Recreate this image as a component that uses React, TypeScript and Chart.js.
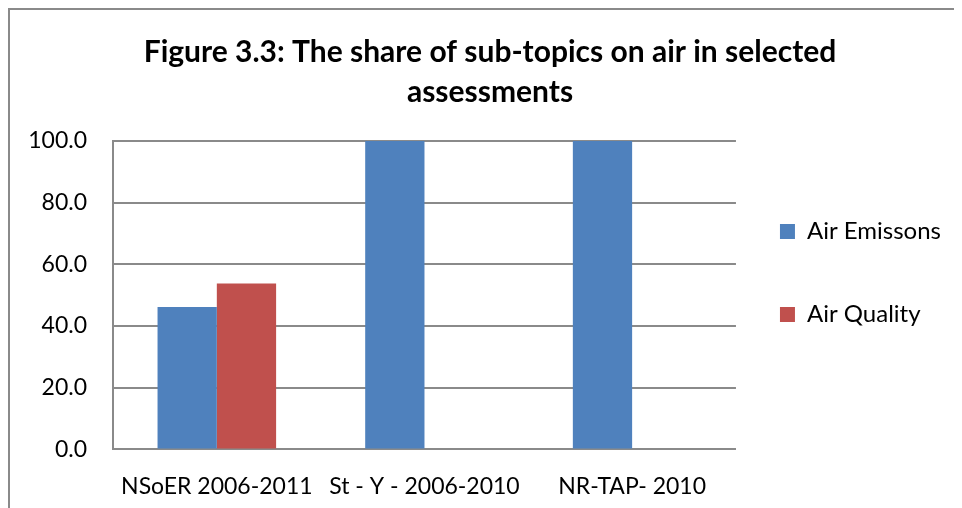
import React, { useEffect, useRef } from "react";
import { Chart, registerables } from "chart.js";
Chart.register(...registerables);

const titleLines = ["Figure 3.3: The share of sub-topics on air in selected", "assessments"];
const categories = ["NSoER 2006-2011", "St - Y - 2006-2010", "NR-TAP- 2010"];
const seriesNames = ["Air Emissons", "Air Quality"];
const airEmissions = [46.2, 100, 100];
const airQuality = [53.8, 0, 0];
const yMin = 0;
const yMax = 100;
const yStep = 20;

const FONT = "Lato, 'Open Sans', sans-serif";
const GRID = "#8a8a8a";

export default function App() {
  const ref = useRef<HTMLCanvasElement | null>(null);
  useEffect(() => {
    document.body.style.overflow = "hidden";
    const canvas = ref.current!;
    const baseGen = (Chart.defaults as any).plugins.legend.labels.generateLabels;
    const chart = new Chart(canvas, {
      type: "bar",
      data: {
        labels: categories,
        datasets: [
          { label: seriesNames[0], data: airEmissions, backgroundColor: "#4F81BD", borderWidth: 0 },
          { label: seriesNames[1], data: airQuality, backgroundColor: "#C0504D", borderWidth: 0 },
        ],
      },
      options: {
        responsive: false,
        animation: false,
        devicePixelRatio: 1,
        layout: { padding: { left: 19, right: 21, top: 0, bottom: 0 } },
        datasets: { bar: { categoryPercentage: 0.571, barPercentage: 1 } },
        plugins: {
          tooltip: { enabled: false },
          title: {
            display: true,
            text: titleLines,
            color: "#000",
            font: { family: FONT, size: 30, weight: "bold", lineHeight: 40 / 30 },
            padding: { top: 22, bottom: 29 },
          },
          legend: {
            position: "right",
            align: "center",
            title: { display: true, text: " ", font: { size: 28, lineHeight: 1 }, padding: 0 },
            labels: {
              boxWidth: 15,
              boxHeight: 15,
              padding: 44,
              color: "#000",
              font: { family: FONT, size: 24, lineHeight: 1.625 },
              generateLabels: (c: any) => baseGen(c).map((l: any) => ({ ...l, text: [l.text] })),
            },
          },
        },
        scales: {
          x: {
            grid: { display: false, drawTicks: false },
            border: { display: true, color: GRID, width: 2 },
            ticks: { color: "#000", padding: 23, font: { family: FONT, size: 23 }, maxRotation: 0 },
          },
          y: {
            min: yMin,
            max: yMax,
            afterFit: (s: any) => {
              s.width = 84;
            },
            grid: { color: GRID, lineWidth: 2, drawTicks: false },
            border: { display: true, color: GRID, width: 2 },
            ticks: {
              stepSize: yStep,
              color: "#000",
              padding: 26,
              font: { family: FONT, size: 23 },
              callback: (v: any) => Number(v).toFixed(1),
            },
          },
        },
      },
    });
    return () => chart.destroy();
  }, []);
  return (
    <div
      style={{
        width: 952,
        height: 498,
        borderTop: "2px solid #8a8a8a",
        borderLeft: "2px solid #8a8a8a",
        overflow: "hidden",
        background: "#fff",
      }}
    >
      <canvas ref={ref} width={962} height={513} style={{ display: "block" }} />
    </div>
  );
}
